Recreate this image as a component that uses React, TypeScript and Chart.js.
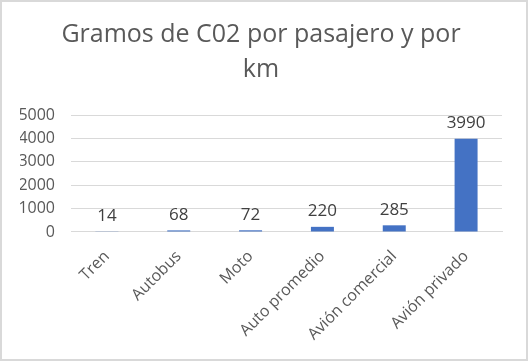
import React, { useEffect, useRef } from "react";
import { Chart, registerables } from "chart.js";

Chart.register(...registerables);

const categories = ["Tren", "Autobus", "Moto", "Auto promedio", "Avión comercial", "Avión privado"];
const values = [14, 68, 72, 220, 285, 3990];
const titleLines = ["Gramos de C02 por pasajero y por", "km"];
const yMin = 0;
const yMax = 5000;
const yStep = 1000;

const FONT = "'Open Sans', 'Noto Sans', sans-serif";

const dataLabels = {
  id: "dataLabels",
  afterDatasetsDraw(chart: any) {
    const ctx = chart.ctx;
    const meta = chart.getDatasetMeta(0);
    const ds = chart.data.datasets[0];
    ctx.save();
    ctx.font = `17px ${FONT}`;
    ctx.fillStyle = "#404040";
    ctx.textAlign = "center";
    ctx.textBaseline = "bottom";
    meta.data.forEach((el: any, i: number) => {
      ctx.fillText(String(ds.data[i]), el.x, el.y - 7);
    });
    ctx.restore();
  },
};

export default function App() {
  const ref = useRef<HTMLCanvasElement>(null);
  useEffect(() => {
    document.body.style.margin = "0";
    const chart = new Chart(ref.current!, {
      type: "bar",
      data: {
        labels: categories,
        datasets: [
          {
            data: values,
            backgroundColor: "#4472C4",
            categoryPercentage: 0.32,
            barPercentage: 1,
          },
        ],
      },
      options: {
        animation: false,
        responsive: false,
        maintainAspectRatio: false,
        layout: { padding: { left: 18, right: 24, top: 12, bottom: 8 } },
        plugins: {
          legend: { display: false },
          tooltip: { enabled: false },
          title: {
            display: true,
            text: titleLines,
            color: "#595959",
            font: { family: FONT, size: 25, weight: "normal", lineHeight: 1.4 },
            padding: { top: 3, bottom: 28 },
          },
        },
        scales: {
          x: {
            grid: { display: false },
            border: { display: true, color: "#D9D9D9", width: 1 },
            ticks: {
              color: "#595959",
              font: { family: FONT, size: 16 },
              maxRotation: 45,
              minRotation: 45,
              padding: 7,
            },
          },
          y: {
            min: yMin,
            max: yMax,
            grid: { color: "#D9D9D9", lineWidth: 1, drawTicks: false },
            border: { display: false },
            afterFit: (s: any) => {
              s.width = 51;
            },
            ticks: {
              stepSize: yStep,
              color: "#595959",
              font: { family: FONT, size: 16 },
              padding: 16,
              callback: (v: any) => String(v),
            },
          },
        },
      },
      plugins: [dataLabels],
    });
    return () => chart.destroy();
  }, []);
  return (
    <div
      style={{
        position: "absolute",
        left: 0,
        top: 0,
        width: 528,
        height: 361,
        boxSizing: "border-box",
        border: "2px solid #D9D9D9",
        background: "#fff",
      }}
    >
      <canvas ref={ref} width={524} height={357} style={{ display: "block" }} />
    </div>
  );
}
